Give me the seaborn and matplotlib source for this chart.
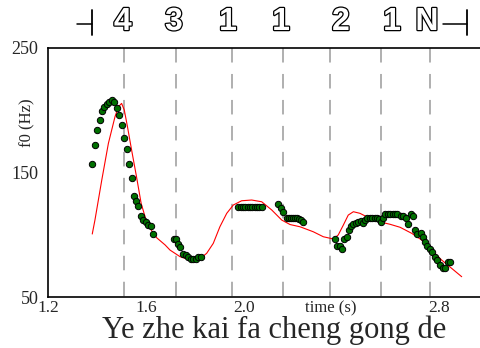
import matplotlib
matplotlib.use("Agg")
import matplotlib.pyplot as plt
import matplotlib.patheffects as pe
import matplotlib.transforms as mtransforms
import pandas as pd
import seaborn as sns

# measured f0 (time in s, f0 in Hz), one list pair per voiced stretch
seg1_t = [1.381, 1.392, 1.402, 1.411, 1.421, 1.430, 1.440, 1.449, 1.461, 1.471, 1.481, 1.490, 1.501,
          1.511, 1.522, 1.531, 1.542, 1.552, 1.561, 1.569, 1.579, 1.590, 1.600, 1.608, 1.621, 1.631]
seg1_f = [156.6, 172.1, 184.1, 191.9, 199.1, 202.8, 205.2, 206.8, 208.2, 206.3, 202.0, 196.4, 188.1,
          177.9, 168.6, 156.6, 145.6, 131.3, 127.1, 122.8, 115.3, 112.1, 110.5, 107.8, 107.0, 100.3]

seg2_t = [1.715, 1.724, 1.733, 1.741, 1.753, 1.763, 1.774, 1.785, 1.794, 1.804, 1.815, 1.825]
seg2_f = [96.8, 96.8, 92.6, 90.4, 84.5, 83.7, 81.9, 80.5, 80.3, 80.5, 82.4, 82.4]

seg3_t = [1.978, 1.988, 1.997, 2.007, 2.016, 2.026, 2.036, 2.045, 2.055, 2.064, 2.074]
seg3_f = [122.5, 122.5, 122.5, 122.5, 122.5, 122.5, 122.5, 122.5, 122.5, 122.5, 122.5]

seg4_t = [2.142, 2.152, 2.162, 2.176, 2.184, 2.192, 2.200, 2.209, 2.217, 2.228, 2.235, 2.244]
seg4_f = [124.4, 121.2, 118.3, 113.7, 113.7, 113.7, 113.7, 113.7, 113.7, 112.6, 111.8, 110.5]

seg5_t = [2.374, 2.383, 2.394, 2.404, 2.412, 2.422, 2.431, 2.439, 2.448, 2.459, 2.469, 2.479, 2.487,
          2.497, 2.506, 2.517, 2.527, 2.537, 2.547, 2.554, 2.562, 2.571, 2.578, 2.589, 2.599, 2.609,
          2.619, 2.629, 2.643, 2.653, 2.664, 2.673, 2.683, 2.693, 2.703, 2.711, 2.724, 2.733, 2.741,
          2.751, 2.761, 2.772, 2.782, 2.792, 2.803, 2.814, 2.824, 2.835, 2.845]
seg5_f = [96.3, 91.0, 91.0, 88.9, 96.7, 98.3, 103.8, 106.7, 108.5, 109.4, 110.5, 110.8, 109.6,
          112.1, 113.3, 113.7, 113.7, 113.7, 113.7, 112.6, 110.6, 113.2, 116.6, 116.9, 116.9, 116.9,
          116.9, 116.9, 115.3, 115.3, 113.2, 108.6, 116.6, 115.0, 103.8, 100.6, 101.6, 98.4, 94.4,
          91.0, 88.5, 86.4, 82.4, 80.0, 75.7, 73.0, 73.0, 77.9, 77.9]

# modelled contour (red)
fit_t = [1.381, 1.392, 1.406, 1.420, 1.447, 1.474, 1.488, 1.501, 1.512, 1.525, 1.542, 1.562, 1.581,
         1.601, 1.622, 1.645, 1.679, 1.699, 1.740, 1.781, 1.815, 1.849, 1.876, 1.903, 1.931, 1.958,
         1.992, 2.033, 2.074, 2.115, 2.156, 2.190, 2.231, 2.285, 2.326, 2.367, 2.387, 2.408, 2.428,
         2.449, 2.476, 2.503, 2.544, 2.571, 2.599, 2.640, 2.688, 2.728, 2.769, 2.810, 2.851, 2.892]
fit_f = [100.6, 111.8, 127.9, 144.0, 173.4, 194.8, 202.8, 205.5, 200.2, 186.8, 168.0, 146.6, 125.2,
         111.8, 103.8, 97.5, 91.8, 87.7, 82.4, 79.7, 79.7, 85.1, 93.1, 106.4, 117.2, 123.9,
         127.3, 127.9, 126.5, 119.9, 111.8, 108.2, 106.4, 102.4, 98.4, 96.6, 99.8, 107.8, 115.8,
         118.5, 117.2, 114.5, 111.5, 109.7, 108.4, 106.0, 101.1, 95.8, 87.7, 79.7, 73.0, 66.3]

syllable_bounds = [1.511, 1.722, 1.954, 2.162, 2.353, 2.562, 2.762]
tone_labels = ["4", "3", "1", "1", "2", "1", "N"]
tone_pos = [1.506, 1.715, 1.936, 2.153, 2.398, 2.607, 2.750]
phrase_edges = [1.380, 2.914]

x_ticks = [1.2, 1.4, 1.6, 1.8, 2.0, 2.2, 2.4, 2.6, 2.8]
x_ticklabels = ["1.2", "", "1.6", "", "2.0", "", "", "", "2.8"]
y_ticks = [50, 70, 90, 110, 130, 150, 170, 190, 210, 230, 250]
y_ticklabels = ["50", "", "", "", "", "150", "", "", "", "", "250"]

caption = "Ye zhe kai fa cheng gong de"

points = pd.DataFrame({
    "time": seg1_t + seg2_t + seg3_t + seg4_t + seg5_t,
    "f0": seg1_f + seg2_f + seg3_f + seg4_f + seg5_f,
})
fit = pd.DataFrame({"time": fit_t, "f0": fit_f})

sns.set_style("white")
plt.rcParams["font.family"] = ["Liberation Serif", "DejaVu Serif"]

fig = plt.figure(figsize=(4.81, 3.48), dpi=100)
ax = fig.add_axes([48 / 481, 1 - 297 / 348, 1 - 48 / 481, (297 - 48) / 348])

for b in syllable_bounds:
    ax.axvline(b, ymin=1, ymax=0, color="#9a9a9a", linewidth=1.1,
               linestyle=(0, (9.5, 7.5)), zorder=1)

sns.lineplot(data=fit, x="time", y="f0", color="red", linewidth=0.8,
             sort=False, ax=ax, zorder=2)
sns.scatterplot(data=points, x="time", y="f0", color="#007000", edgecolor="black",
                linewidth=0.7, s=21, ax=ax, zorder=3)

ax.set_xlim(1.2, 1.2 + 433 / 244.5)
ax.set_ylim(50, 250)
ax.set_xticks(x_ticks)
ax.set_xticklabels(x_ticklabels, fontsize=12.5)
ax.set_yticks(y_ticks)
ax.set_yticklabels(y_ticklabels, fontsize=13)
ax.tick_params(axis="x", direction="in", length=3.8, width=0.8, pad=2)
ax.tick_params(axis="y", direction="in", length=6.5, width=0.8, pad=7)
ax.set_xlabel("")
ax.set_ylabel("")

for side in ["left", "bottom", "top"]:
    ax.spines[side].set_visible(True)
    ax.spines[side].set_color("black")
    ax.spines[side].set_linewidth(1.2)
ax.spines["right"].set_visible(False)

fig.text(331 / 481, 1 - 308 / 348, "time (s)", fontsize=12, ha="center", va="center")
fig.text(27 / 481, 1 - 123 / 348, "f0 (Hz)", fontsize=12, rotation=90, ha="center", va="center")
fig.text(274 / 481, 1 - 338 / 348, caption, fontsize=22, ha="center", va="baseline")

# tone labels above the plot, outlined
top = mtransforms.blended_transform_factory(ax.transData, fig.transFigure)
for lab, t in zip(tone_labels, tone_pos):
    ax.text(t, 1 - 22 / 348, lab, transform=top, ha="center", va="center",
            fontsize=23, fontweight="bold", family="Liberation Sans", color="white",
            path_effects=[pe.withStroke(linewidth=1.8, foreground="black")], clip_on=False)

# phrase edge markers
y_lo, y_mid, y_hi = 1 - 35 / 348, 1 - 24 / 348, 1 - 10 / 348
ax.plot([phrase_edges[0], phrase_edges[0]], [y_lo, y_hi], transform=top, color="black",
        linewidth=1.3, clip_on=False)
ax.plot([phrase_edges[0] - 0.062, phrase_edges[0]], [y_mid, y_mid], transform=top,
        color="black", linewidth=1.1, clip_on=False)
ax.plot([phrase_edges[1], phrase_edges[1]], [y_lo, y_hi], transform=top, color="black",
        linewidth=1.3, clip_on=False)
ax.plot([phrase_edges[1] - 0.1, phrase_edges[1]], [y_mid, y_mid], transform=top,
        color="black", linewidth=1.1, clip_on=False)

fig.savefig("out.png", dpi=100)
